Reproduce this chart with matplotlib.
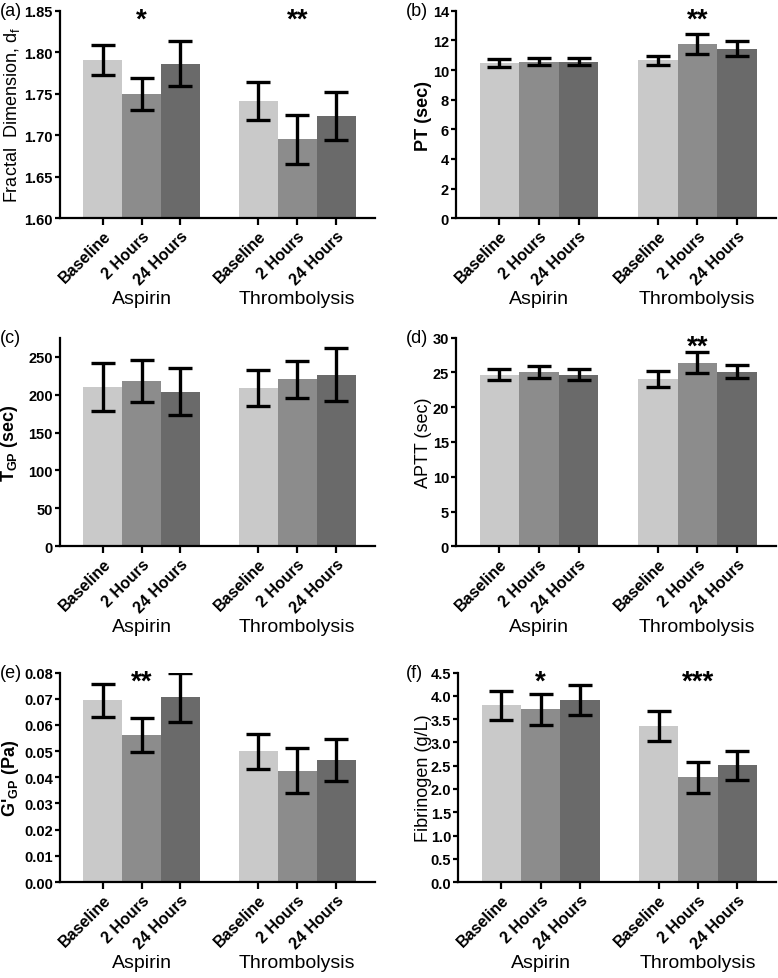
import matplotlib
matplotlib.use("Agg")
import matplotlib.pyplot as plt
import matplotlib.transforms as mtransforms
import numpy as np

plt.rcParams["font.family"] = ["Liberation Sans", "DejaVu Sans"]

time_labels = ["Baseline", "2 Hours", "24 Hours"]
groups = ["Aspirin", "Thrombolysis"]
bar_colors = ["#c9c9c9", "#8c8c8c", "#6a6a6a"]

# means and error (SEM) per panel: [aspirin x3, thrombolysis x3]
fd_mean = [1.791, 1.750, 1.786, 1.741, 1.695, 1.723]
fd_err = [0.018, 0.019, 0.027, 0.023, 0.029, 0.029]

pt_mean = [10.46, 10.55, 10.55, 10.65, 11.75, 11.45]
pt_err = [0.27, 0.23, 0.23, 0.33, 0.65, 0.48]

tgp_mean = [210, 218, 204, 209, 220, 226]
tgp_err = [32, 28, 31, 24, 24, 35]

aptt_mean = [24.7, 25.1, 24.7, 24.0, 26.4, 25.1]
aptt_err = [0.8, 0.85, 0.8, 1.15, 1.5, 0.95]

g_mean = [0.0694, 0.0561, 0.0705, 0.0499, 0.0425, 0.0465]
g_err = [0.0064, 0.0065, 0.0094, 0.0068, 0.0086, 0.0080]

fib_mean = [3.80, 3.71, 3.91, 3.35, 2.25, 2.51]
fib_err = [0.31, 0.34, 0.33, 0.33, 0.33, 0.31]

panels = [
    dict(tag="(a)", mean=fd_mean, err=fd_err, ylim=(1.60, 1.85), ticks=np.arange(1.60, 1.851, 0.05),
         fmt="{:.2f}", ylabel=r"Fractal  Dimension, d$_\mathregular{f}$", bold=False, labx=-0.12,
         stars=[(1, "*"), (5, "**")], rect=[0.077, 0.776, 0.405, 0.212], tagx=0.0),
    dict(tag="(b)", mean=pt_mean, err=pt_err, ylim=(0, 14), ticks=np.arange(0, 15, 2),
         fmt="{:.0f}", ylabel="PT (sec)", bold=True, labx=-0.075,
         stars=[(5, "**")], rect=[0.586, 0.776, 0.412, 0.212], tagx=0.522),
    dict(tag="(c)", mean=tgp_mean, err=tgp_err, ylim=(0, 275), ticks=np.arange(0, 251, 50),
         fmt="{:.0f}", ylabel=r"T$_\mathregular{GP}$ (sec)", bold=True, labx=-0.127,
         stars=[], rect=[0.077, 0.441, 0.405, 0.213], tagx=0.0),
    dict(tag="(d)", mean=aptt_mean, err=aptt_err, ylim=(0, 30), ticks=np.arange(0, 31, 5),
         fmt="{:.0f}", ylabel="APTT (sec)", bold=False, labx=-0.075,
         stars=[(5, "**")], rect=[0.586, 0.441, 0.412, 0.213], tagx=0.522),
    dict(tag="(e)", mean=g_mean, err=g_err, ylim=(0, 0.08), ticks=np.arange(0, 0.0801, 0.01),
         fmt="{:.2f}", ylabel=r"G'$_\mathregular{GP}$ (Pa)", bold=True, labx=-0.124,
         stars=[(1, "**")], rect=[0.077, 0.098, 0.405, 0.214], tagx=0.0),
    dict(tag="(f)", mean=fib_mean, err=fib_err, ylim=(0, 4.5), ticks=np.arange(0, 4.51, 0.5),
         fmt="{:.1f}", ylabel="Fibrinogen (g/L)", bold=False, labx=-0.082,
         stars=[(1, "*"), (5, "***")], rect=[0.589, 0.098, 0.409, 0.214], tagx=0.522),
]

x = np.array([0, 1, 2, 4, 5, 6])
colors = bar_colors * 2

fig = plt.figure(figsize=(7.78, 9.79), dpi=100)

for p in panels:
    ax = fig.add_axes(p["rect"])
    ax.bar(x, p["mean"], width=1.0, color=colors, zorder=2)
    ax.errorbar(x, p["mean"], yerr=p["err"], fmt="none", ecolor="black",
                elinewidth=2.4, capsize=8.5, capthick=2.4, zorder=3)
    ax.set_xlim(-1.1, 7.0)
    ax.set_ylim(*p["ylim"])
    ax.set_yticks(p["ticks"])
    ax.set_yticklabels([p["fmt"].format(t) for t in p["ticks"]], fontsize=10.5, fontweight="bold")
    ax.set_xticks(x)
    ax.set_xticklabels(time_labels * 2, rotation=45, ha="right", rotation_mode="anchor",
                       fontsize=11.5, fontweight="bold")
    for side in ["top", "right"]:
        ax.spines[side].set_visible(False)
    for side in ["left", "bottom"]:
        ax.spines[side].set_linewidth(1.6)
    ax.tick_params(axis="y", width=1.6, length=3.5, direction="out", pad=1.5)
    ax.tick_params(axis="x", width=1.6, length=5, direction="out", pad=2)
    ax.set_ylabel(p["ylabel"], fontsize=13, fontweight="bold" if p["bold"] else "normal")
    ax.yaxis.set_label_coords(p["labx"], 0.5)

    trans = mtransforms.blended_transform_factory(ax.transData, ax.transAxes)
    ax.text(1, -0.385, groups[0], transform=trans, ha="center", va="center", fontsize=14)
    ax.text(5, -0.385, groups[1], transform=trans, ha="center", va="center", fontsize=14)
    for sx, s in p["stars"]:
        ax.text(sx, 0.955, s, transform=trans, ha="center", va="center", fontsize=20, fontweight="bold")

    fig.text(p["tagx"], p["rect"][1] + p["rect"][3], p["tag"], ha="left", va="center", fontsize=13)

fig.savefig("out.png", dpi=100)
